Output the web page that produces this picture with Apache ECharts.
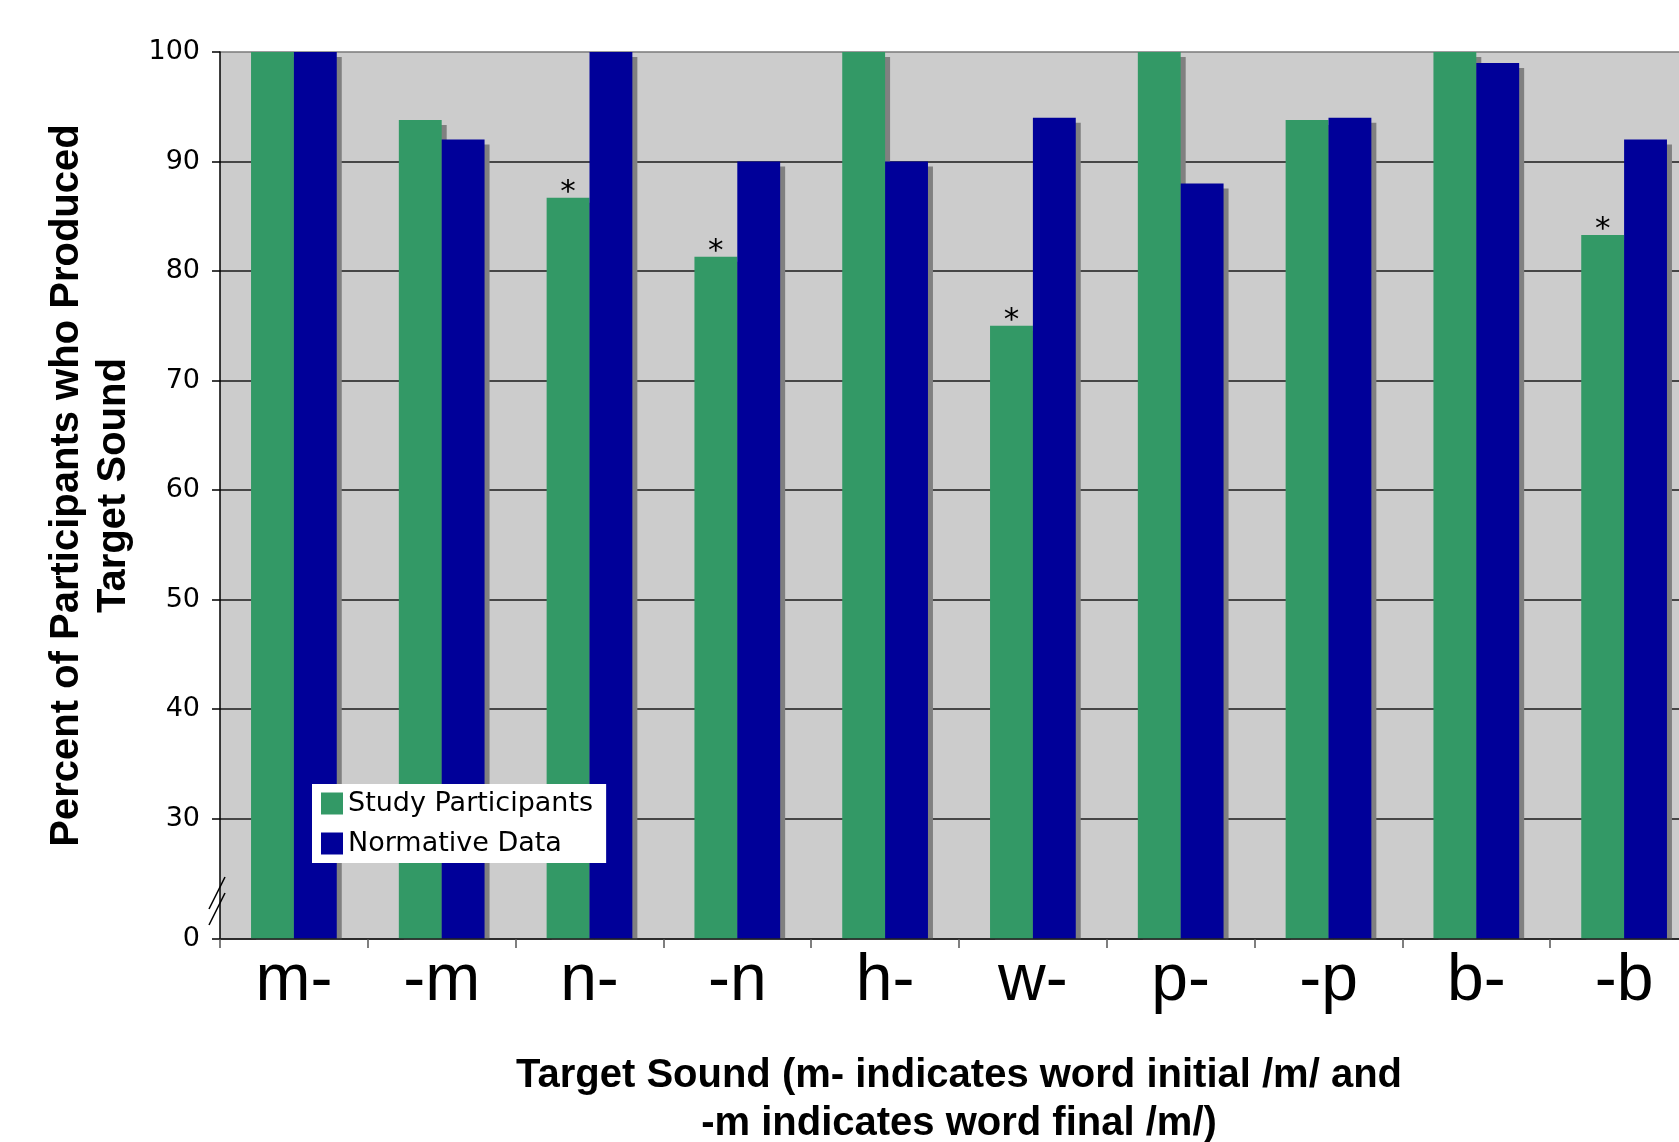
<!DOCTYPE html>
<html>
<head>
<meta charset="utf-8">
<title>Target Sound Production</title>
<script src="https://cdn.jsdelivr.net/npm/echarts@6/dist/echarts.min.js"></script>
<style>
  html, body { margin: 0; padding: 0; background: #ffffff; }
  #chart { width: 1679px; height: 1142px; }
</style>
</head>
<body>
<div id="chart"></div>
<script>
// Target sounds (m- = word initial, -m = word final)
const categories = ['m-', '-m', 'n-', '-n', 'h-', 'w-', 'p-', '-p', 'b-', '-b'];

// Percent of participants producing each sound
const studyParticipants = [100, 93.8, 86.7, 81.3, 100, 75, 100, 93.8, 100, 83.3];
const normativeData     = [100, 92, 100, 90, 90, 94, 88, 94, 99, 92];

// Sounds marked with an asterisk above the study bar
const flagged = [false, false, true, true, false, true, false, false, false, true];

// Broken value axis: the bottom of the plot is labelled 0
const AXIS_FLOOR = 19;
const yTickValues = [AXIS_FLOOR, 30, 40, 50, 60, 70, 80, 90, 100];
const yTickLabels = ['0', '30', '40', '50', '60', '70', '80', '90', '100'];

const GRID = { left: 220, top: 52, width: 1478, height: 887 };
const gridBottom = GRID.top + GRID.height;

const chart = echarts.init(document.getElementById('chart'), null, { renderer: 'canvas' });

const shadow = { shadowColor: '#808080', shadowBlur: 0, shadowOffsetX: 5, shadowOffsetY: 5 };

const studyData = studyParticipants.map((v, i) => flagged[i]
  ? { value: v, label: { show: true } }
  : { value: v });

const labelFor = {};
yTickValues.forEach((v, i) => { labelFor[v] = yTickLabels[i]; });

const option = {
  animation: false,
  backgroundColor: '#ffffff',
  grid: {
    left: GRID.left, top: GRID.top, width: GRID.width, height: GRID.height,
    outerBoundsMode: 'none',
    containLabel: false,
    show: true, backgroundColor: '#cccccc', borderWidth: 0
  },
  legend: {
    orient: 'vertical',
    left: 312, top: 784,
    backgroundColor: '#ffffff',
    padding: [6, 13, 6, 9],
    itemWidth: 22, itemHeight: 22, itemGap: 13,
    icon: 'rect',
    itemStyle: { shadowBlur: 0, shadowOffsetX: 0, shadowOffsetY: 0, shadowColor: 'transparent' },
    textStyle: {
      fontFamily: 'DejaVu Sans', fontSize: 27, color: '#000'
    },
    data: ['Study Participants', 'Normative Data']
  },
  xAxis: {
    type: 'category',
    data: categories,
    z: 10,
    axisLine: { lineStyle: { color: '#222', width: 1.5 } },
    axisTick: { show: true, length: 9, lineStyle: { color: '#555', width: 1.5 } },
    axisLabel: {
      fontFamily: 'Liberation Sans', fontSize: 66, color: '#000', margin: 10
    },
    name: 'Target Sound (m- indicates word initial /m/ and\n-m indicates word final /m/)',
    nameLocation: 'middle',
    nameGap: 113,
    nameTextStyle: {
      fontFamily: 'Liberation Sans', fontWeight: 'bold', fontSize: 40,
      lineHeight: 48, color: '#000'
    }
  },
  yAxis: {
    type: 'value',
    min: AXIS_FLOOR, max: 100,
    z: 1,
    axisLine: { show: true, lineStyle: { color: '#000', width: 1.5 } },
    axisTick: { show: true, length: 8, customValues: yTickValues, lineStyle: { color: '#000', width: 1.5 } },
    axisLabel: {
      customValues: yTickValues,
      formatter: v => labelFor[v] !== undefined ? labelFor[v] : '',
      fontFamily: 'DejaVu Sans', fontSize: 27, color: '#000', margin: 20
    },
    splitLine: {
      show: true,
      lineStyle: { color: ['#1a1a1a', '#1a1a1a', '#1a1a1a', '#1a1a1a', '#1a1a1a', '#1a1a1a', '#1a1a1a', '#1a1a1a', '#7a7a7a'], width: 1.5 }
    },
    name: 'Percent of Participants who Produced\nTarget Sound',
    nameLocation: 'middle',
    nameGap: 81,
    nameTextStyle: {
      fontFamily: 'Liberation Sans', fontWeight: 'bold', fontSize: 40,
      lineHeight: 47, color: '#000', padding: [0, 0, 0, 20]
    }
  },
  series: [
    {
      name: 'Study Participants',
      type: 'bar',
      data: studyData,
      barGap: '0%',
      barCategoryGap: '42%',
      itemStyle: Object.assign({ color: '#339966' }, shadow),
      label: {
        show: false,
        position: 'top',
        distance: -11,
        formatter: '*',
        fontFamily: 'DejaVu Sans', fontSize: 31, color: '#000'
      }
    },
    {
      name: 'Normative Data',
      type: 'bar',
      data: normativeData,
      barGap: '0%',
      barCategoryGap: '42%',
      itemStyle: Object.assign({ color: '#000099' }, shadow)
    }
  ],
  graphic: [
    // hides the bar shadows below the category axis
    {
      type: 'rect', z: 5, silent: true,
      shape: { x: GRID.left + 1, y: gridBottom + 1, width: GRID.width, height: 8 },
      style: { fill: '#ffffff' }
    },
    // axis break marks
    {
      type: 'line', z: 12, silent: true,
      shape: { x1: GRID.left - 11, y1: gridBottom - 30, x2: GRID.left + 5, y2: gridBottom - 62 },
      style: { stroke: '#000', lineWidth: 1.5 }
    },
    {
      type: 'line', z: 12, silent: true,
      shape: { x1: GRID.left - 11, y1: gridBottom - 14, x2: GRID.left + 5, y2: gridBottom - 46 },
      style: { stroke: '#000', lineWidth: 1.5 }
    }
  ]
};

chart.setOption(option);
</script>
</body>
</html>
